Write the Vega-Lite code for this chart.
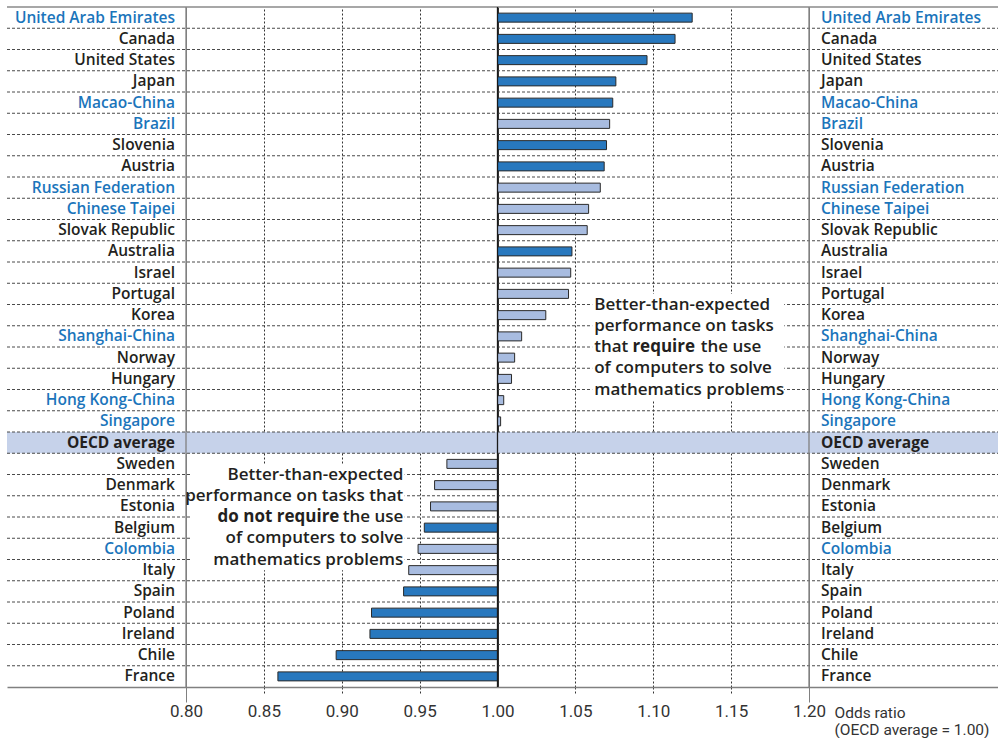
{
  "$schema": "https://vega.github.io/schema/vega-lite/v6.json",
  "width": 992,
  "height": 680,
  "padding": {"left": 6, "top": 6, "right": 0, "bottom": 0},
  "config": {"view": {"stroke": null}, "font": "Open Sans"},
  "datasets": {
    "rows": [
      {"country": "United Arab Emirates", "value": 1.125, "sig": "yes", "partner": true},
      {"country": "Canada", "value": 1.114, "sig": "yes", "partner": false},
      {"country": "United States", "value": 1.096, "sig": "yes", "partner": false},
      {"country": "Japan", "value": 1.076, "sig": "yes", "partner": false},
      {"country": "Macao-China", "value": 1.074, "sig": "yes", "partner": true},
      {"country": "Brazil", "value": 1.072, "sig": "no", "partner": true},
      {"country": "Slovenia", "value": 1.070, "sig": "yes", "partner": false},
      {"country": "Austria", "value": 1.0685, "sig": "yes", "partner": false},
      {"country": "Russian Federation", "value": 1.066, "sig": "no", "partner": true},
      {"country": "Chinese Taipei", "value": 1.0585, "sig": "no", "partner": true},
      {"country": "Slovak Republic", "value": 1.0576, "sig": "no", "partner": false},
      {"country": "Australia", "value": 1.0478, "sig": "yes", "partner": false},
      {"country": "Israel", "value": 1.047, "sig": "no", "partner": false},
      {"country": "Portugal", "value": 1.0456, "sig": "no", "partner": false},
      {"country": "Korea", "value": 1.031, "sig": "no", "partner": false},
      {"country": "Shanghai-China", "value": 1.0155, "sig": "no", "partner": true},
      {"country": "Norway", "value": 1.011, "sig": "no", "partner": false},
      {"country": "Hungary", "value": 1.009, "sig": "no", "partner": false},
      {"country": "Hong Kong-China", "value": 1.004, "sig": "no", "partner": true},
      {"country": "Singapore", "value": 1.002, "sig": "no", "partner": true},
      {"country": "OECD average", "value": null, "sig": "avg", "partner": false},
      {"country": "Sweden", "value": 0.9675, "sig": "no", "partner": false},
      {"country": "Denmark", "value": 0.9596, "sig": "no", "partner": false},
      {"country": "Estonia", "value": 0.957, "sig": "no", "partner": false},
      {"country": "Belgium", "value": 0.953, "sig": "yes", "partner": false},
      {"country": "Colombia", "value": 0.949, "sig": "no", "partner": true},
      {"country": "Italy", "value": 0.943, "sig": "no", "partner": false},
      {"country": "Spain", "value": 0.9397, "sig": "yes", "partner": false},
      {"country": "Poland", "value": 0.9191, "sig": "yes", "partner": false},
      {"country": "Ireland", "value": 0.9181, "sig": "yes", "partner": false},
      {"country": "Chile", "value": 0.8964, "sig": "yes", "partner": false},
      {"country": "France", "value": 0.859, "sig": "yes", "partner": false}
    ],
    "notes": [
      {"country": "Korea", "x": 1.0621, "label": "Better-than-expected", "side": "right", "bold": false},
      {"country": "Shanghai-China", "x": 1.0621, "label": "performance on tasks", "side": "right", "bold": false},
      {"country": "Norway", "x": 1.0621, "label": "that", "side": "right", "bold": false},
      {"country": "Norway", "x": 1.0866, "label": "require", "side": "right", "bold": true},
      {"country": "Norway", "x": 1.1305, "label": "the use", "side": "right", "bold": false},
      {"country": "Hungary", "x": 1.0621, "label": "of computers to solve", "side": "right", "bold": false},
      {"country": "Hong Kong-China", "x": 1.0621, "label": "mathematics problems", "side": "right", "bold": false},
      {"country": "Denmark", "x": 0.9395, "label": "Better-than-expected", "side": "left", "bold": false},
      {"country": "Estonia", "x": 0.9395, "label": "performance on tasks that", "side": "left", "bold": false},
      {"country": "Belgium", "x": 0.9395, "label": "the use", "side": "left", "bold": false},
      {"country": "Belgium", "x": 0.8985, "label": "do not require", "side": "left", "bold": true},
      {"country": "Colombia", "x": 0.9395, "label": "of computers to solve", "side": "left", "bold": false},
      {"country": "Italy", "x": 0.9395, "label": "mathematics problems", "side": "left", "bold": false}
    ],
    "boxes": [
      {"from": "Portugal", "to": "Hong Kong-China", "x1": 1.0608, "x2": 1.1841},
      {"from": "Sweden", "to": "Italy", "x1": 0.8034, "x2": 0.9404}
    ],
    "refs": [{"v": 0.8, "c": "end"}, {"v": 1.2, "c": "end"}, {"v": 1.0, "c": "mid"}]
  },
  "data": {"name": "rows"},
  "resolve": {"scale": {"color": "independent"}},
  "layer": [
    {
      "transform": [{"filter": "datum.country === 'OECD average'"}],
      "mark": {"type": "rect", "fill": "#c6d2ea"},
      "encoding": {
        "y": {
          "field": "country", "type": "nominal", "sort": null,
          "scale": {
            "domain": ["United Arab Emirates", "Canada", "United States", "Japan", "Macao-China", "Brazil", "Slovenia", "Austria", "Russian Federation", "Chinese Taipei", "Slovak Republic", "Australia", "Israel", "Portugal", "Korea", "Shanghai-China", "Norway", "Hungary", "Hong Kong-China", "Singapore", "OECD average", "Sweden", "Denmark", "Estonia", "Belgium", "Colombia", "Italy", "Spain", "Poland", "Ireland", "Chile", "France"],
            "paddingInner": 0, "paddingOuter": 0
          },
          "axis": null
        },
        "x": {
          "datum": 0.68507, "type": "quantitative",
          "scale": {"domain": [0.68507, 1.32199], "nice": false, "zero": false},
          "axis": {
            "orient": "bottom",
            "values": [0.8, 0.85, 0.9, 0.95, 1, 1.05, 1.1, 1.15, 1.2],
            "format": ".2f",
            "domainColor": "#808080", "domainWidth": 1.5,
            "grid": true,
            "gridDash": {"condition": {"test": "datum.value < 0.81 || datum.value > 1.19 || abs(datum.value - 1) < 0.001", "value": []}, "value": [2, 2]},
            "gridColor": {"condition": {"test": "datum.value < 0.81 || datum.value > 1.19", "value": "#808080"}, "value": "#333333"},
            "tickDash": {"condition": {"test": "datum.value < 0.81 || datum.value > 1.19", "value": []}, "value": [2, 2]},
            "tickColor": {"condition": {"test": "datum.value < 0.81 || datum.value > 1.19", "value": "#808080"}, "value": "#333333"},
            "tickSize": {"condition": {"test": "datum.value < 0.81 || datum.value > 1.19", "value": 15}, "value": 8},
            "tickOpacity": {"condition": {"test": "abs(datum.value - 1) < 0.001", "value": 0}, "value": 1},
            "labelPadding": {"condition": {"test": "datum.value < 0.81 || datum.value > 1.19", "value": 1}, "value": 8},
            "labelFont": "Roboto",
            "labelFontSize": 17, "labelColor": "#333333",
            "title": ["Odds ratio", "(OECD average = 1.00)"],
            "titleFont": "Roboto",
            "titleFontSize": 15.5, "titleFontWeight": "normal", "titleColor": "#333333",
            "titleAlign": "left", "titleBaseline": "alphabetic", "titleAngle": 0,
            "titleX": 827, "titleY": 30, "titleLineHeight": 17
          }
        },
        "x2": {"datum": 1.32199}
      }
    },
    {
      "transform": [{"filter": "datum.country !== 'United Arab Emirates'"}],
      "mark": {"type": "rule", "strokeDash": [3, 2], "color": "#4a4a4a", "strokeWidth": 1},
      "encoding": {
        "y": {"field": "country", "type": "nominal", "sort": null, "bandPosition": 0},
        "x": {"datum": 0.68507},
        "x2": {"datum": 1.32199}
      }
    },
    {
      "transform": [{"filter": "datum.country === 'United Arab Emirates'"}],
      "mark": {"type": "rule", "color": "#8a8a8a", "strokeWidth": 1.5},
      "encoding": {
        "y": {"field": "country", "type": "nominal", "sort": null, "bandPosition": 0},
        "x": {"datum": 0.68507},
        "x2": {"datum": 1.32199}
      }
    },
    {
      "transform": [{"filter": "datum.value != null"}],
      "mark": {"type": "bar", "size": 9, "stroke": "#2a2a2a", "strokeWidth": 1},
      "encoding": {
        "y": {"field": "country", "type": "nominal", "sort": null},
        "x": {"field": "value", "type": "quantitative"},
        "x2": {"datum": 1},
        "fill": {"field": "sig", "type": "nominal", "scale": {"domain": ["yes", "no"], "range": ["#2878be", "#a8bce0"]}, "legend": null}
      }
    },
    {
      "data": {"name": "refs"},
      "mark": {"type": "rule"},
      "encoding": {
        "x": {"field": "v", "type": "quantitative"},
        "color": {"field": "c", "type": "nominal", "scale": {"domain": ["end", "mid"], "range": ["#808080", "#1a1a1a"]}, "legend": null},
        "strokeWidth": {"value": 1.3}
      }
    },
    {
      "data": {"name": "boxes"},
      "mark": {"type": "rect", "fill": "white"},
      "encoding": {
        "y": {"field": "from", "type": "nominal", "bandPosition": 0.5},
        "y2": {"field": "to", "bandPosition": 0.5},
        "x": {"field": "x1", "type": "quantitative"},
        "x2": {"field": "x2"}
      }
    },
    {
      "transform": [{"filter": "datum.country !== 'OECD average'"}],
      "mark": {"type": "text", "align": "right", "baseline": "middle", "dx": -11, "fontSize": 15.5, "font": "Open Sans", "fontWeight": 600},
      "encoding": {
        "y": {"field": "country", "type": "nominal", "sort": null},
        "x": {"datum": 0.8},
        "text": {"field": "country"},
        "color": {"field": "partner", "type": "nominal", "scale": {"domain": [true, false], "range": ["#1b75bb", "#231f20"]}, "legend": null}
      }
    },
    {
      "transform": [{"filter": "datum.country !== 'OECD average'"}],
      "mark": {"type": "text", "align": "left", "baseline": "middle", "dx": 12, "fontSize": 15.5, "font": "Open Sans", "fontWeight": 600},
      "encoding": {
        "y": {"field": "country", "type": "nominal", "sort": null},
        "x": {"datum": 1.2},
        "text": {"field": "country"},
        "color": {"field": "partner", "type": "nominal", "scale": {"domain": [true, false], "range": ["#1b75bb", "#231f20"]}, "legend": null}
      }
    },
    {
      "transform": [{"filter": "datum.country === 'OECD average'"}],
      "mark": {"type": "text", "align": "right", "baseline": "middle", "dx": -11, "fontSize": 15.5, "font": "Open Sans", "fontWeight": "bold", "color": "#231f20"},
      "encoding": {
        "y": {"field": "country", "type": "nominal", "sort": null},
        "x": {"datum": 0.8},
        "text": {"field": "country"}
      }
    },
    {
      "transform": [{"filter": "datum.country === 'OECD average'"}],
      "mark": {"type": "text", "align": "left", "baseline": "middle", "dx": 12, "fontSize": 15.5, "font": "Open Sans", "fontWeight": "bold", "color": "#231f20"},
      "encoding": {
        "y": {"field": "country", "type": "nominal", "sort": null},
        "x": {"datum": 1.2},
        "text": {"field": "country"}
      }
    },
    {
      "data": {"name": "notes"},
      "transform": [{"filter": "datum.side === 'right' && !datum.bold"}],
      "mark": {"type": "text", "align": "left", "baseline": "middle", "fontSize": 17, "font": "Open Sans", "fontWeight": 600, "fill": "#231f20"},
      "encoding": {"y": {"field": "country", "type": "nominal", "bandPosition": 0}, "x": {"field": "x", "type": "quantitative"}, "text": {"field": "label"}}
    },
    {
      "data": {"name": "notes"},
      "transform": [{"filter": "datum.side === 'right' && datum.bold"}],
      "mark": {"type": "text", "align": "left", "baseline": "middle", "fontSize": 17, "font": "Open Sans", "fontWeight": "bold", "fill": "#231f20"},
      "encoding": {"y": {"field": "country", "type": "nominal", "bandPosition": 0}, "x": {"field": "x", "type": "quantitative"}, "text": {"field": "label"}}
    },
    {
      "data": {"name": "notes"},
      "transform": [{"filter": "datum.side === 'left' && !datum.bold"}],
      "mark": {"type": "text", "align": "right", "baseline": "middle", "fontSize": 17, "font": "Open Sans", "fontWeight": 600, "fill": "#231f20"},
      "encoding": {"y": {"field": "country", "type": "nominal", "bandPosition": 0}, "x": {"field": "x", "type": "quantitative"}, "text": {"field": "label"}}
    },
    {
      "data": {"name": "notes"},
      "transform": [{"filter": "datum.side === 'left' && datum.bold"}],
      "mark": {"type": "text", "align": "right", "baseline": "middle", "fontSize": 17, "font": "Open Sans", "fontWeight": "bold", "fill": "#231f20"},
      "encoding": {"y": {"field": "country", "type": "nominal", "bandPosition": 0}, "x": {"field": "x", "type": "quantitative"}, "text": {"field": "label"}}
    }
  ]
}
